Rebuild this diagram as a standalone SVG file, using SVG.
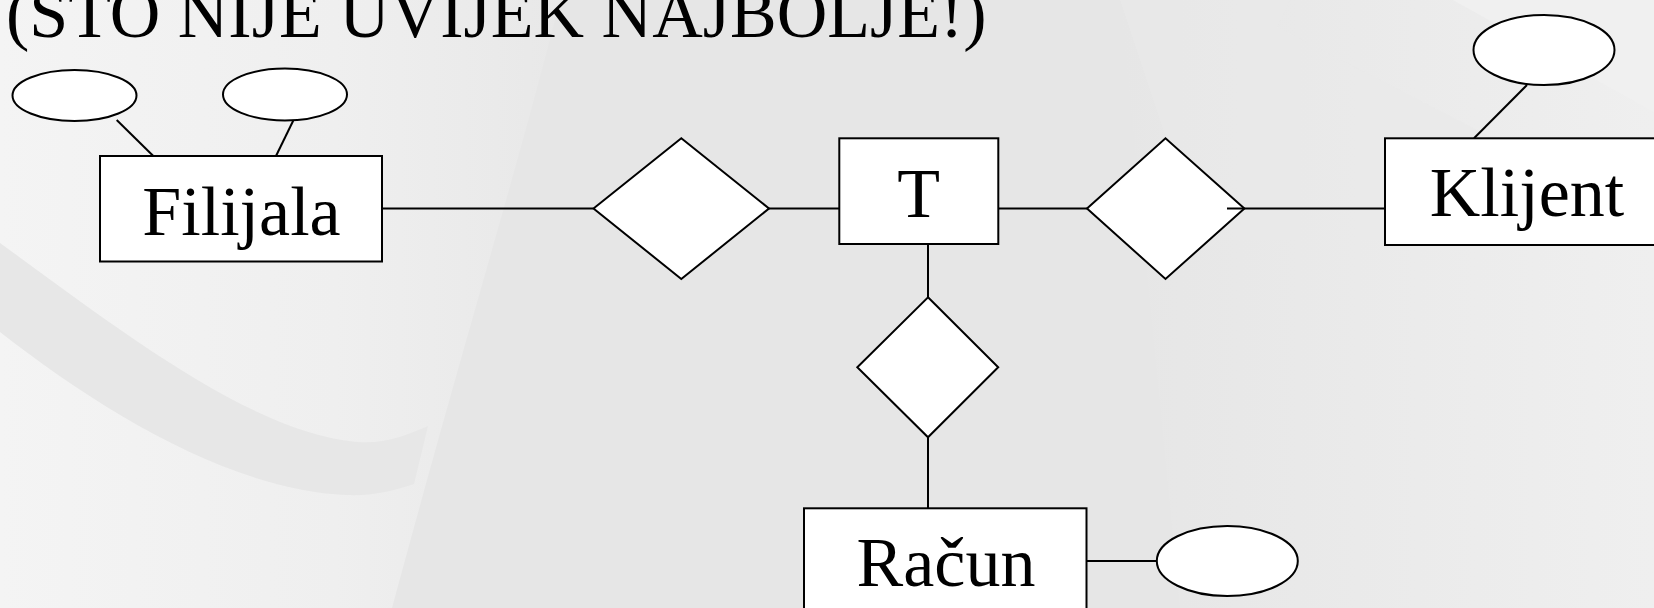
<svg xmlns="http://www.w3.org/2000/svg" width="1654" height="608" viewBox="0 0 1654 608">
  <defs>
    <linearGradient id="leftLight" x1="0" y1="0" x2="1" y2="0">
      <stop offset="0" stop-color="#f4f4f4"/>
      <stop offset="0.6" stop-color="#efefef"/>
      <stop offset="1" stop-color="#e8e8e8"/>
    </linearGradient>
    <linearGradient id="rightLight" x1="0" y1="0" x2="1" y2="0">
      <stop offset="0" stop-color="#e6e6e6"/>
      <stop offset="1" stop-color="#efefef"/>
    </linearGradient>
    <style>
      .shape { fill: #ffffff; stroke: #000000; stroke-width: 2; }
      .conn { stroke: #000000; stroke-width: 2; fill: none; }
      .label { font-family: "Liberation Serif", "Times New Roman", serif; font-size: 70px; fill: #000000; text-anchor: middle; }
      .title { font-family: "Liberation Serif", "Times New Roman", serif; font-size: 70px; fill: #000000; }
    </style>
  </defs>

  <g id="background">
    <rect x="0" y="0" width="1654" height="608" fill="#e6e6e6"/>
    <path d="M1120,0 L1654,0 L1654,608 L1180,608 Z" fill="url(#rightLight)"/>
    <path d="M0,0 L560,0 C 520,160 470,320 392,608 L0,608 Z" fill="url(#leftLight)"/>
    <path d="M0,243 C 120,330 250,432 357,442 C 385,444 405,436 428,426 L414,484 C 390,492 370,496 346,495 C 230,490 100,410 0,332 Z" fill="#e7e7e7"/>
    <path d="M1453,0 L1654,0 L1654,112 Z" fill="#f0f0f0"/>
    <path d="M1120,0 L1290,0 L1277,27 L1489,136 L1654,160 L1654,240 L1200,240 Z" fill="#e9e9e9" opacity="0.6"/>
  </g>

  <g id="title">
    <text class="title" x="6" y="37">(ŠTO NIJE UVIJEK NAJBOLJE!)</text>
  </g>

  <g id="connectors">
    <line class="conn" x1="116.7" y1="120" x2="153.3" y2="156"/>
    <line class="conn" x1="293.3" y1="120.5" x2="276" y2="156"/>
    <line class="conn" x1="1527" y1="85" x2="1474" y2="138.3"/>
    <line class="conn" x1="1086.5" y1="561" x2="1157" y2="561"/>
    <line class="conn" x1="382" y1="208.5" x2="593.5" y2="208.5"/>
    <line class="conn" x1="769" y1="208.5" x2="839" y2="208.5"/>
    <line class="conn" x1="998.5" y1="208.5" x2="1087" y2="208.5"/>
    <line class="conn" x1="928" y1="244" x2="928" y2="297.3"/>
    <line class="conn" x1="928" y1="437" x2="928" y2="508.3"/>
  </g>

  <g id="attr-filijala-1">
    <ellipse class="shape" cx="74.5" cy="95.5" rx="62" ry="25.5"/>
  </g>
  <g id="attr-filijala-2">
    <ellipse class="shape" cx="285" cy="94.5" rx="62" ry="26"/>
  </g>
  <g id="attr-klijent">
    <ellipse class="shape" cx="1544" cy="50" rx="70.5" ry="35"/>
  </g>
  <g id="attr-racun">
    <ellipse class="shape" cx="1227.3" cy="561" rx="70.5" ry="35"/>
  </g>

  <g id="rel-filijala-t">
    <polygon class="shape" points="593.5,208.5 681.3,138.3 769,208.5 681.3,279"/>
  </g>
  <g id="rel-t-klijent">
    <polygon class="shape" points="1087,208.5 1165.5,138.3 1244.4,208.5 1165.5,279"/>
  </g>
  <g id="rel-t-racun">
    <polygon class="shape" points="928,297.3 998.2,367.3 928,437.3 857.3,367.3"/>
  </g>

  <g id="connector-klijent">
    <line class="conn" x1="1227" y1="208.5" x2="1385" y2="208.5"/>
  </g>

  <g id="entity-filijala">
    <rect class="shape" x="100" y="156" width="282" height="105.5"/>
    <text class="label" x="241.5" y="235">Filijala</text>
  </g>
  <g id="entity-t">
    <rect class="shape" x="839.3" y="138.3" width="159" height="105.7"/>
    <text class="label" x="918.7" y="217.3">T</text>
  </g>
  <g id="entity-klijent">
    <rect class="shape" x="1385" y="138.3" width="290" height="106.7"/>
    <text class="label" x="1527" y="216">Klijent</text>
  </g>
  <g id="entity-racun">
    <rect class="shape" x="804" y="508.3" width="282.5" height="120"/>
    <text class="label" x="946" y="585.7">Račun</text>
  </g>
</svg>
